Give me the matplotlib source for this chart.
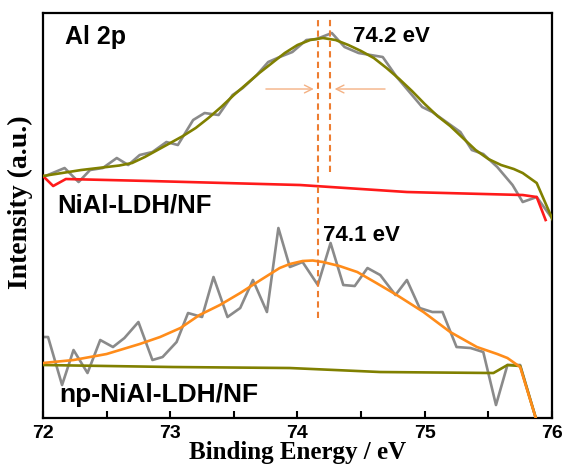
import matplotlib
matplotlib.use('Agg')
import matplotlib.pyplot as plt

# XPS Al 2p spectra, intensity in arbitrary units
# NiAl-LDH/NF (upper curves)
e_raw1 = [72.00, 72.17, 72.28, 72.37, 72.47, 72.58, 72.67, 72.76, 72.86, 72.97,
          73.06, 73.18, 73.27, 73.38, 73.49, 73.57, 73.68, 73.77, 73.86, 73.96,
          74.07, 74.15, 74.27, 74.37, 74.48, 74.67, 74.78, 74.98, 75.06, 75.17,
          75.28, 75.37, 75.46, 75.57, 75.69, 75.77, 75.88, 76.01]
i_raw1 = [241, 250, 236, 248, 250, 260, 253, 263, 266, 276,
          273, 298, 305, 303, 323, 330, 343, 356, 361, 366,
          378, 379, 385, 371, 365, 361, 341, 311, 306, 296,
          286, 268, 264, 251, 233, 216, 221, 198]
e_fit1 = [72.0, 72.1, 72.2, 72.3, 72.4, 72.5, 72.6, 72.7, 72.8, 72.9,
          73.0, 73.1, 73.2, 73.3, 73.4, 73.5, 73.6, 73.7, 73.8, 73.9,
          74.0, 74.1, 74.2, 74.3, 74.4, 74.5, 74.6, 74.7, 74.8, 74.9,
          75.0, 75.1, 75.2, 75.3, 75.4, 75.5, 75.6, 75.7, 75.77, 75.88, 76.01]
i_fit1 = [242, 244, 246, 248, 249.5, 251, 252.5, 255, 261, 268,
          275, 282, 290, 300, 311, 323, 334, 345, 355, 365,
          373, 378, 380, 378, 373, 367, 360, 350, 339, 327,
          314, 302, 292, 280, 268, 259, 253, 249, 245, 235, 197]
e_bg1 = [72.00, 72.08, 72.18, 72.84, 74.02, 74.86, 75.77, 75.88, 75.95]
i_bg1 = [242, 232, 239, 237, 233, 226, 223, 221, 198]

# np-NiAl-LDH/NF (lower curves)
e_raw2 = [72.00, 72.04, 72.15, 72.24, 72.35, 72.45, 72.55, 72.64, 72.75, 72.86,
          72.94, 73.05, 73.14, 73.25, 73.34, 73.45, 73.55, 73.65, 73.76, 73.85,
          73.94, 74.04, 74.16, 74.26, 74.36, 74.45, 74.55, 74.65, 74.77, 74.86,
          74.96, 75.06, 75.14, 75.25, 75.36, 75.46, 75.56, 75.65, 75.75, 75.88]
i_raw2 = [81, 81, 33, 68, 45, 78, 71, 80, 96, 58,
          61, 76, 105, 101, 141, 101, 110, 138, 106, 190,
          151, 156, 133, 175, 133, 132, 150, 143, 123, 138,
          110, 106, 106, 71, 70, 66, 13, 53, 53, -3]
e_fit2 = [72.00, 72.24, 72.50, 72.76, 72.92, 73.08, 73.23, 73.39, 73.55, 73.71,
          73.86, 73.94, 74.04, 74.12, 74.20, 74.33, 74.47, 74.62, 74.78, 74.99,
          75.20, 75.41, 75.57, 75.65, 75.75, 75.88]
i_fit2 = [55, 58, 64, 74, 81, 90, 103, 113, 125, 138,
          150, 154, 157, 157.5, 156, 152, 146, 135, 123, 106,
          86, 71, 64, 60, 51, -3]
e_bg2 = [72.00, 73.02, 73.94, 74.65, 75.54, 75.65, 75.75, 75.88]
i_bg2 = [53, 51, 50, 46, 45, 53, 52, -3]

# peak positions marked with dashed lines
peak_np = 74.16
peak_ldh = 74.255

sans = 'Liberation Sans'
serif = 'Liberation Serif'

fig = plt.figure(figsize=(5.67, 4.68), dpi=100)
ax = fig.add_axes([0.0758, 0.1068, 0.8977, 0.8654])

gray = '#8a8a8a'
olive = '#808000'
orange = '#ff8c1a'

ax.plot(e_raw1, i_raw1, color=gray, lw=1.9, zorder=2)
ax.plot(e_bg1, i_bg1, color='#ff1a1a', lw=1.9, zorder=3)
ax.plot(e_fit1, i_fit1, color=olive, lw=1.9, zorder=4)

ax.plot(e_raw2, i_raw2, color=gray, lw=1.9, zorder=2)
ax.plot(e_bg2, i_bg2, color=olive, lw=1.9, zorder=3)
ax.plot(e_fit2, i_fit2, color=orange, lw=1.9, zorder=4)

# dashed peak markers
ax.plot([peak_np, peak_np], [100, 400], color='#ed7d31', lw=1.5, ls=(0, (3, 2)), zorder=5)
ax.plot([peak_ldh, peak_ldh], [246, 401], color='#ed7d31', lw=1.5, ls=(0, (3, 2)), zorder=5)

arrow_col = '#f4b183'
ax.annotate('', xy=(peak_np - 0.01, 329), xytext=(73.73, 329),
            arrowprops=dict(arrowstyle='->', color=arrow_col, lw=1.0, mutation_scale=14))
ax.annotate('', xy=(peak_ldh + 0.015, 329), xytext=(74.71, 329),
            arrowprops=dict(arrowstyle='->', color=arrow_col, lw=1.0, mutation_scale=14))

ax.text(72.17, 374, 'Al 2p', fontsize=18, fontweight='bold', family=sans)
ax.text(74.44, 376, '74.2 eV', fontsize=16, fontweight='bold', family=sans)
ax.text(74.20, 177, '74.1 eV', fontsize=16, fontweight='bold', family=sans)
ax.text(72.11, 206, 'NiAl-LDH/NF', fontsize=18.5, fontweight='bold', family=sans)
ax.text(72.13, 16, 'np-NiAl-LDH/NF', fontsize=19, fontweight='bold', family=sans)

ax.set_xlim(72, 76)
ax.set_ylim(0, 405)
ax.set_xticks([72, 73, 74, 75, 76])
ax.set_xticks([72.5, 73.5, 74.5, 75.5], minor=True)
ax.set_yticks([])
ax.tick_params(axis='x', which='both', direction='in', length=5, width=1.5, pad=5)
for lab in ax.get_xticklabels():
    lab.set_fontsize(14)
    lab.set_fontweight('bold')
    lab.set_family(sans)
for sp in ax.spines.values():
    sp.set_linewidth(1.6)

ax.set_xlabel('Binding Energy / eV', fontsize=18, fontweight='bold', family=serif, labelpad=-1)
ax.set_ylabel('Intensity (a.u.)', fontsize=20, fontweight='bold', family=serif)
ax.yaxis.set_label_coords(-0.02, 0.533)

plt.savefig('out.png', dpi=100)
